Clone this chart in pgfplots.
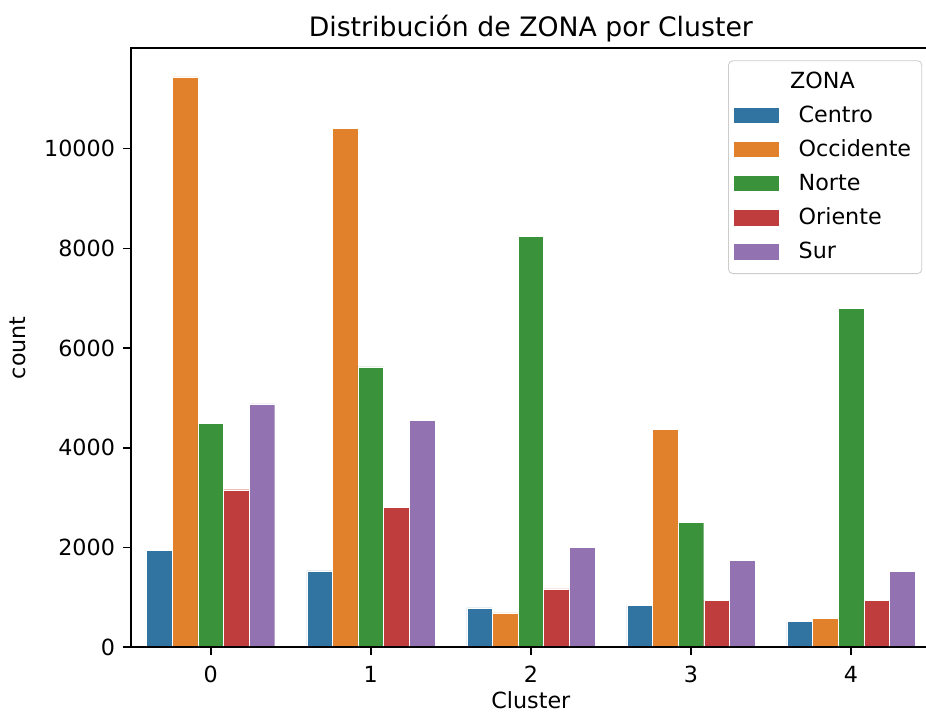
\documentclass[border=0pt]{standalone}
\usepackage{fontspec}
\setmainfont{DejaVu Sans}
\usepackage{pgfplots}
\pgfplotsset{compat=1.18}
\definecolor{cCentro}{HTML}{3274A1}
\definecolor{cOcc}{HTML}{E1812C}
\definecolor{cNorte}{HTML}{3A923A}
\definecolor{cOri}{HTML}{C03D3E}
\definecolor{cSur}{HTML}{9372B2}
\definecolor{legframe}{HTML}{CCCCCC}
\newcommand{\fs}{\fontsize{10.45}{12.5}\selectfont}
\begin{document}
\begin{tikzpicture}
\begin{axis}[
  scale only axis, width=376pt, height=281.4pt,
  axis on top,
  xmin=-0.5, xmax=4.5, ymin=0, ymax=12012,
  ybar=0pt, bar width=0.16,
  xtick={0,1,2,3,4}, ytick={0,2000,4000,6000,8000,10000},
  xtick pos=bottom, ytick pos=left, tick align=outside, major tick length=3.5pt,
  tick style={black, line width=0.8pt},
  axis line style={line width=0.8pt},
  /pgf/number format/assume math mode=true,
  /pgf/number format/set thousands separator={},
  scaled y ticks=false,
  ticklabel style={font=\fs},
  xticklabel style={anchor=north, inner sep=0pt, yshift=-5pt},
  yticklabel style={anchor=east, inner sep=0pt, xshift=-3.7pt},
  xlabel={Cluster}, ylabel={count},
  every axis x label/.style={at={(axis description cs:0.5,-0.1030)}, anchor=base, font=\fs},
  every axis y label/.style={at={(axis description cs:-0.1309,0.5)}, anchor=base, rotate=90, font=\fs},
  title={Distribución de ZONA por Cluster},
  every axis title/.style={at={(axis description cs:0.5,1.0195)}, anchor=base, font=\fontsize{12.55}{15}\selectfont},
  legend style={at={(0.989,0.980)}, anchor=north east, draw=legframe, rounded corners=2pt,
    font=\fs, inner xsep=2pt, inner ysep=2pt,
    nodes={text height=8pt, text depth=2pt, inner sep=3pt}},
  legend cell align=left,
  legend image code/.code={\draw[#1, draw=none, sharp corners] (0.7pt,-0.12cm) rectangle (0.74cm+0.7pt,0.14cm); \path (0.74cm+6.8pt,0);},
]
\addlegendimage{empty legend}
\addlegendentry{\hspace{-4pt}ZONA}
\addplot[fill=cCentro, draw=white, line width=0.2pt] coordinates {(0,1950) (1,1530) (2,790) (3,845) (4,520)};
\addlegendentry{Centro}
\addplot[fill=cOcc, draw=white, line width=0.2pt] coordinates {(0,11440) (1,10400) (2,690) (3,4370) (4,585)};
\addlegendentry{Occidente}
\addplot[fill=cNorte, draw=white, line width=0.2pt] coordinates {(0,4485) (1,5625) (2,8245) (3,2500) (4,6800)};
\addlegendentry{Norte}
\addplot[fill=cOri, draw=white, line width=0.2pt] coordinates {(0,3160) (1,2800) (2,1170) (3,945) (4,945)};
\addlegendentry{Oriente}
\addplot[fill=cSur, draw=white, line width=0.2pt] coordinates {(0,4880) (1,4550) (2,2005) (3,1750) (4,1525)};
\addlegendentry{Sur}
\end{axis}
\pgfresetboundingbox
\path[use as bounding box] ([shift={(-61.4pt,-31pt)}]current axis.south west) rectangle ([shift={(-2.35pt,22.7pt)}]current axis.north east);
\end{tikzpicture}
\end{document}
